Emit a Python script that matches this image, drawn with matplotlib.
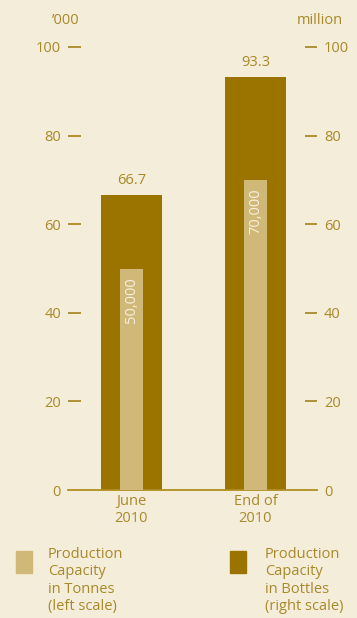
import matplotlib.pyplot as plt
import numpy as np

# data
periods = ['June\n2010', 'End of\n2010']
bottles_m = [66.7, 93.3]        # right scale, million
tonnes_k = [50.0, 70.0]         # left scale, '000
tonnes_labels = ['50,000', '70,000']
yticks = [0, 20, 40, 60, 80, 100]

bg = '#f4edda'
dark = '#9b7400'
light = '#cfb878'
txt = '#a8892a'
fs = 10.5

plt.rcParams['font.family'] = ['Open Sans', 'DejaVu Sans']

fig = plt.figure(figsize=(3.57, 6.18), dpi=100, facecolor=bg)
W, H = 357, 618
ax = fig.add_axes([68 / W, 128 / H, 249 / W, 443 / H])
ax.set_facecolor(bg)

x = np.arange(len(periods))
ax.bar(x, bottles_m, width=0.49, color=dark, zorder=2)
ax.bar(x, tonnes_k, width=0.185, color=light, zorder=3)

for xi, v in zip(x, bottles_m):
    ax.annotate(f'{v:.1f}', (xi, v), xytext=(0, 5), textcoords='offset points',
                ha='center', va='bottom', color=txt, fontsize=fs)
for xi, v, lab in zip(x, tonnes_k, tonnes_labels):
    ax.annotate(lab, (xi, v), xytext=(0, -6), textcoords='offset points',
                ha='center', va='top', rotation=90, color='#f7f0dc', fontsize=fs)

ax.set_xlim(-0.512, 1.496)
ax.set_ylim(0, 100)
ax.set_xticks(x)
ax.set_xticklabels(periods, color=txt, fontsize=fs, linespacing=1.15)
ax.tick_params(axis='x', length=0, pad=3)

ax.set_yticks(yticks)
ax.tick_params(axis='y', direction='in', length=9, width=1.3, color=txt,
               labelcolor=txt, labelsize=fs, pad=5,
               left=True, right=True, labelleft=True, labelright=True)
for t in ax.yaxis.get_major_ticks()[:1]:
    t.tick1line.set_visible(False)
    t.tick2line.set_visible(False)

for s in ['top', 'left', 'right']:
    ax.spines[s].set_visible(False)
ax.spines['bottom'].set_color('#b08e1f')
ax.spines['bottom'].set_linewidth(1.3)

fig.text(66 / W, 1 - 20 / H, '\u2019000', color=txt, fontsize=fs, ha='center', va='center')
fig.text(320 / W, 1 - 20 / H, 'million', color=txt, fontsize=fs, ha='center', va='center')

# legend
fig.patches.append(plt.Rectangle((16 / W, 1 - 573 / H), 16 / W, 22 / H,
                                 transform=fig.transFigure, color=light))
fig.patches.append(plt.Rectangle((230 / W, 1 - 573 / H), 16 / W, 22 / H,
                                 transform=fig.transFigure, color=dark))
fig.text(48 / W, 1 - 547 / H, 'Production\nCapacity\nin Tonnes\n(left scale)',
         color=txt, fontsize=fs, ha='left', va='top', linespacing=1.22)
fig.text(265 / W, 1 - 547 / H, 'Production\nCapacity\nin Bottles\n(right scale)',
         color=txt, fontsize=fs, ha='left', va='top', linespacing=1.22)

fig.savefig('out.png', dpi=100, facecolor=bg)
